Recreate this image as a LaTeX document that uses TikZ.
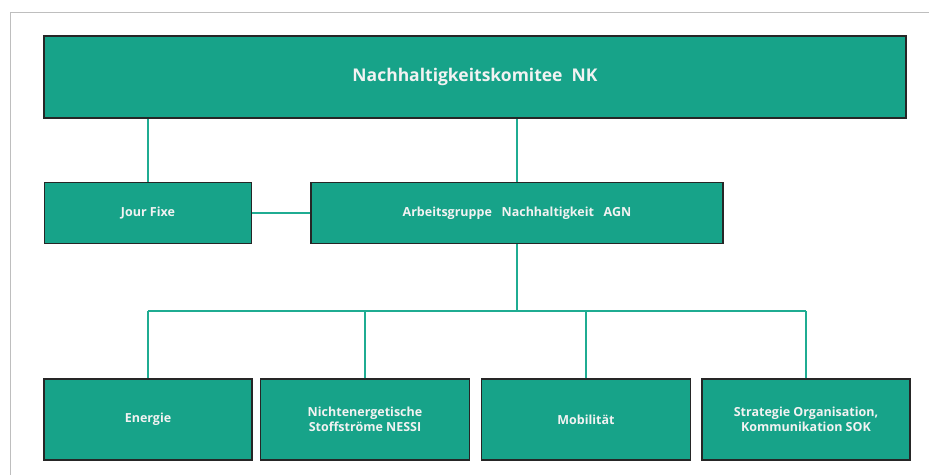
\documentclass[tikz,border=0pt]{standalone}
\usepackage{fontspec}
\setmainfont{Open Sans}
\usetikzlibrary{positioning,calc}

\definecolor{nkteal}{RGB}{23,163,137}
\definecolor{nkline}{RGB}{31,172,146}
\definecolor{nkframe}{RGB}{190,190,190}

\begin{document}
\begin{tikzpicture}[x=1pt, y=-1pt,
  box/.style={draw=black!85, line width=1.1pt, fill=nkteal, text=white!95!black,
    font=\fontsize{12.5}{15.5}\selectfont\bfseries, align=center, inner sep=0pt},
  link/.style={draw=nkline, line width=1.8pt}]

\useasboundingbox (0,0) rectangle (929,475);

% Frame
\draw[nkframe, line width=1pt] (929,12) -- (10,12) -- (10,475);

% Top level
\node[box, minimum width=862pt, minimum height=82pt, font=\fontsize{17.5}{20}\selectfont\bfseries] (nk) at (475,77) {Nachhaltigkeitskomitee~~NK};

% Second level
\node[box, minimum width=207pt, minimum height=61pt] (jour) at (148,213) {Jour Fixe};
\node[box, minimum width=412pt, minimum height=61pt] (agn) at (517,213) {Arbeitsgruppe~~~Nachhaltigkeit~~~AGN};

% Working groups
\node[box, minimum width=208pt, minimum height=81pt] (energie) at (148,419.5) {Energie};
\node[box, minimum width=209pt, minimum height=81pt] (nessi) at (365,419.5) {Nichtenergetische\\Stoffströme NESSI};
\node[box, minimum width=209pt, minimum height=81pt] (mob) at (586,419.5) {Mobilität};
\node[box, minimum width=208pt, minimum height=81pt] (sok) at (806,419.5) {Strategie Organisation,\\Kommunikation SOK};

% Connections
\coordinate (bus) at (517,311);
\draw[link] (jour.north) -- (jour.north |- nk.south);
\draw[link] (agn.north) -- (agn.north |- nk.south);
\draw[link] (jour.east) -- (agn.west);
\draw[link] (agn.south) -- (bus);
\draw[link] (energie.north |- bus) -- (sok.north |- bus);
\foreach \g in {energie,nessi,mob,sok}
  \draw[link] (\g.north) -- (\g.north |- bus);

\end{tikzpicture}
\end{document}
